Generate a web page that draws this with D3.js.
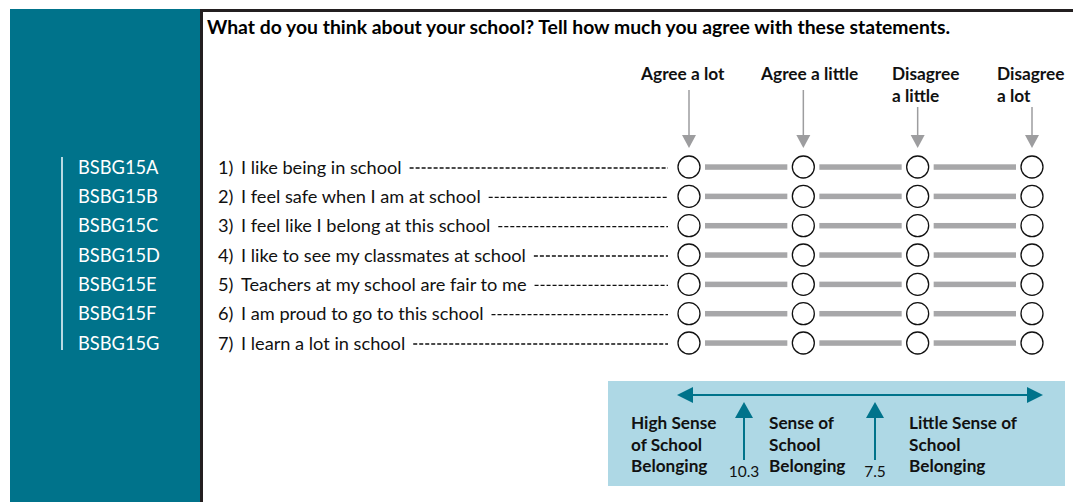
<!DOCTYPE html>
<html><head><meta charset="utf-8">
<script src="https://cdn.jsdelivr.net/npm/d3@7"></script>
<style>html,body{margin:0;padding:0;background:#fff;}svg{display:block;}</style>
</head><body>
<script>
const codes = ["BSBG15A","BSBG15B","BSBG15C","BSBG15D","BSBG15E","BSBG15F","BSBG15G"];
const items = ["I like being in school","I feel safe when I am at school","I feel like I belong at this school","I like to see my classmates at school","Teachers at my school are fair to me","I am proud to go to this school","I learn a lot in school"];
const responses = [["Agree a lot"],["Agree a little"],["Disagree","a little"],["Disagree","a lot"]];
const title = "What do you think about your school? Tell how much you agree with these statements.";
const bands = [["High Sense","of School","Belonging"],["Sense of","School","Belonging"],["Little Sense of","School","Belonging"]];
const cutpoints = ["10.3","7.5"];

const W = 1073, H = 502;
const teal = "#00738b", dark = "#231f20", grey = "#a7a7a9", lightBlue = "#aed8e5";
const font = "Lato, 'Open Sans', sans-serif";

const svg = d3.select("body").append("svg").attr("width", W).attr("height", H);

// scales
const x = d3.scalePoint().domain(d3.range(responses.length)).range([689, 1032]);
const y = d3.scalePoint().domain(d3.range(items.length)).range([167, 343]);

// left panel
svg.append("rect").attr("x",10).attr("y",9).attr("width",191).attr("height",H-9).attr("fill",teal);
svg.append("line").attr("x1",62).attr("x2",62).attr("y1",157).attr("y2",350).attr("stroke","#b9d9e2").attr("stroke-width",2);
svg.selectAll("text.code").data(codes).join("text").attr("class","code")
  .attr("x",78).attr("y",(d,i)=>y(i)).attr("dy","0.36em")
  .attr("fill","#fff").attr("font-family",font).attr("font-size",18.3).text(d=>d);

// borders
svg.append("rect").attr("x",200).attr("y",9).attr("width",3).attr("height",H-9).attr("fill",dark);
svg.append("rect").attr("x",200).attr("y",9).attr("width",W-200).attr("height",3).attr("fill",dark);

// title
svg.append("text").attr("x",207).attr("y",34).attr("font-family",font).attr("font-weight","bold")
  .attr("font-size",18).attr("fill","#000").text(title)
  .attr("textLength",743).attr("lengthAdjust","spacingAndGlyphs");

// response headers
const hdrX = [641, 761, 892, 997];
responses.forEach((lines,i)=>{
  const g = svg.append("text").attr("font-family",font).attr("font-weight","bold").attr("font-size",17.3).attr("fill","#111");
  lines.forEach((l,j)=>g.append("tspan").attr("x", hdrX[i]).attr("y",80+j*21.5).text(l));
  const top = lines.length>1 ? 107 : 90;
  svg.append("line").attr("x1",x(i)).attr("x2",x(i)).attr("y1",top).attr("y2",137).attr("stroke","#9d9d9f").attr("stroke-width",1.5);
  svg.append("path").attr("d",`M${x(i)-7},135 L${x(i)+7},135 L${x(i)},148 Z`).attr("fill","#9d9d9f");
});

// item rows
items.forEach((it,i)=>{
  const yy = y(i);
  svg.append("text").attr("x",218).attr("y",yy).attr("dy","0.36em").attr("font-family",font).attr("font-size",18.2).attr("fill","#111").text((i+1)+")");
  const lab = svg.append("text").attr("x",241).attr("y",yy).attr("dy","0.36em").attr("font-family",font).attr("font-size",18.2).attr("fill","#111").text(it);
  const end = 241 + lab.node().getComputedTextLength();
  svg.append("line").attr("x1",end+8).attr("x2",668).attr("y1",yy+1).attr("y2",yy+1)
    .attr("stroke","#111").attr("stroke-width",1.3).attr("stroke-dasharray","4,2");
  for(let k=0;k<responses.length-1;k++){
    svg.append("rect").attr("x",x(k)+16).attr("y",yy-2.7).attr("width",x(k+1)-x(k)-32).attr("height",5.5).attr("fill",grey);
  }
  svg.selectAll(null).data(responses).join("circle")
    .attr("cx",(d,k)=>x(k)).attr("cy",yy).attr("r",11)
    .attr("fill","#fff").attr("stroke","#111").attr("stroke-width",1.3);
});

// legend box
svg.append("rect").attr("x",608).attr("y",381).attr("width",457).attr("height",105).attr("fill",lightBlue);
svg.append("line").attr("x1",690).attr("x2",1030).attr("y1",395).attr("y2",395).attr("stroke",teal).attr("stroke-width",2);
svg.append("path").attr("d","M677,395 L693,387 L693,403 Z").attr("fill",teal);
svg.append("path").attr("d","M1043,395 L1027,387 L1027,403 Z").attr("fill",teal);
const cutX = [744, 875];
cutpoints.forEach((c,i)=>{
  svg.append("line").attr("x1",cutX[i]).attr("x2",cutX[i]).attr("y1",414).attr("y2",460).attr("stroke",teal).attr("stroke-width",2);
  svg.append("path").attr("d",`M${cutX[i]},402 L${cutX[i]-9},418 L${cutX[i]+9},418 Z`).attr("fill",teal);
  svg.append("text").attr("x",cutX[i]).attr("y",477).attr("text-anchor","middle").attr("font-family",font).attr("font-size",15.5).attr("fill","#111").text(c);
});
const bandX = [631, 769, 909];
bands.forEach((lines,i)=>{
  const g = svg.append("text").attr("font-family",font).attr("font-weight","bold").attr("font-size",17.2).attr("fill","#111");
  lines.forEach((l,j)=>g.append("tspan").attr("x",bandX[i]).attr("y",429+j*21.5).text(l));
});
</script>
</body></html>
